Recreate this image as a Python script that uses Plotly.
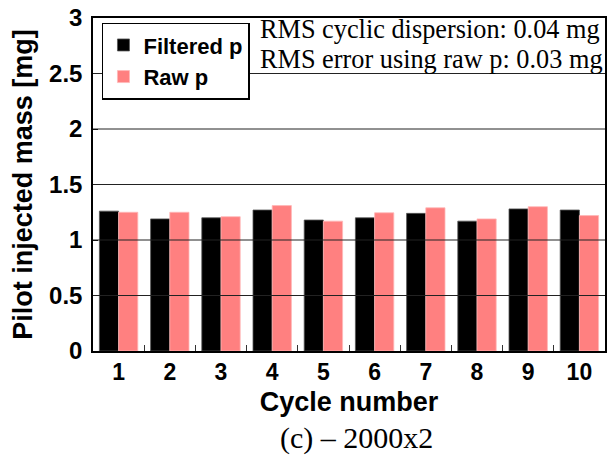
import plotly.graph_objects as go

cycles = ["1", "2", "3", "4", "5", "6", "7", "8", "9", "10"]
filtered_p = [1.26, 1.19, 1.20, 1.27, 1.18, 1.20, 1.24, 1.17, 1.28, 1.27]
raw_p = [1.25, 1.25, 1.21, 1.31, 1.17, 1.245, 1.29, 1.19, 1.30, 1.22]
y_ticks = [0, 0.5, 1, 1.5, 2, 2.5, 3]
y_tick_text = ["0", "0.5", "1", "1.5", "2", "2.5", "3"]
notes = ["RMS cyclic dispersion: 0.04 mg", "RMS error using raw p: 0.03 mg"]
caption = "(c) \u2013 2000x2"

SANS = "Liberation Sans, Arial, sans-serif"
SERIF = "Liberation Serif, Times New Roman, serif"

plot_top, plot_h, plot_bottom = 17, 334, 351

fig = go.Figure()
fig.add_trace(go.Bar(x=cycles, y=filtered_p, name="Filtered p",
                     marker=dict(color="#000000", line=dict(color="#555555", width=0.8))))
fig.add_trace(go.Bar(x=cycles, y=raw_p, name="Raw p",
                     marker=dict(color="#FF8080", line=dict(color="#FFB8B8", width=0.8))))

# horizontal gridlines drawn above the bars, as in the reference
for v in y_ticks[1:-1]:
    fig.add_shape(type="line", xref="paper", x0=0, x1=1, yref="y", y0=v, y1=v,
                  line=dict(color="#222222", width=1), layer="above")

for text, ypx in zip(notes, [29, 59]):
    fig.add_annotation(x=0.322, y=1 - (ypx - plot_top) / plot_h, xref="paper", yref="paper",
                       text=text, showarrow=False, xanchor="left", yanchor="middle",
                       font=dict(family=SERIF, size=26.3, color="black"))

fig.add_annotation(x=0.514, y=-(438 - plot_bottom) / plot_h, xref="paper", yref="paper",
                   text=caption, showarrow=False, xanchor="center", yanchor="middle",
                   font=dict(family=SERIF, size=30, color="black"))

fig.update_layout(
    width=611, height=459,
    margin=dict(l=93, r=4, t=17, b=108),
    paper_bgcolor="white", plot_bgcolor="white",
    barmode="group", bargap=0.25, bargroupgap=0,
    font=dict(family=SANS, color="black"),
    legend=dict(x=0.0175, y=0.986, xanchor="left", yanchor="top",
                bgcolor="white", bordercolor="black", borderwidth=1.5,
                font=dict(family=SANS, size=22, color="black", weight="bold"),
                tracegroupgap=0, itemwidth=30),
    showlegend=True,
)

fig.update_xaxes(
    type="category", showgrid=False, showline=True, linecolor="black", linewidth=1.5,
    mirror=True, ticks="inside", tickson="boundaries", ticklen=6, tickcolor="#333333",
    tickfont=dict(family=SANS, size=23, color="black", weight="bold"),
    title=dict(text="Cycle number", standoff=8,
               font=dict(family=SANS, size=27, color="black", weight="bold")),
)
fig.update_yaxes(
    range=[0, 3], tickvals=y_ticks, ticktext=y_tick_text, showgrid=False,
    showline=True, linecolor="black", linewidth=1.5, mirror=True,
    ticks="inside", ticklen=5, tickcolor="black", ticklabelstandoff=4,
    tickfont=dict(family=SANS, size=24, color="black", weight="bold"),
    title=dict(text="Pilot injected mass [mg]", standoff=9,
               font=dict(family=SANS, size=27, color="black", weight="bold")),
    zeroline=False,
)

fig.write_html(
    "out.html",
    config={"displayModeBar": False},
    post_script="document.body.style.margin='0';document.body.style.padding='0';",
)
